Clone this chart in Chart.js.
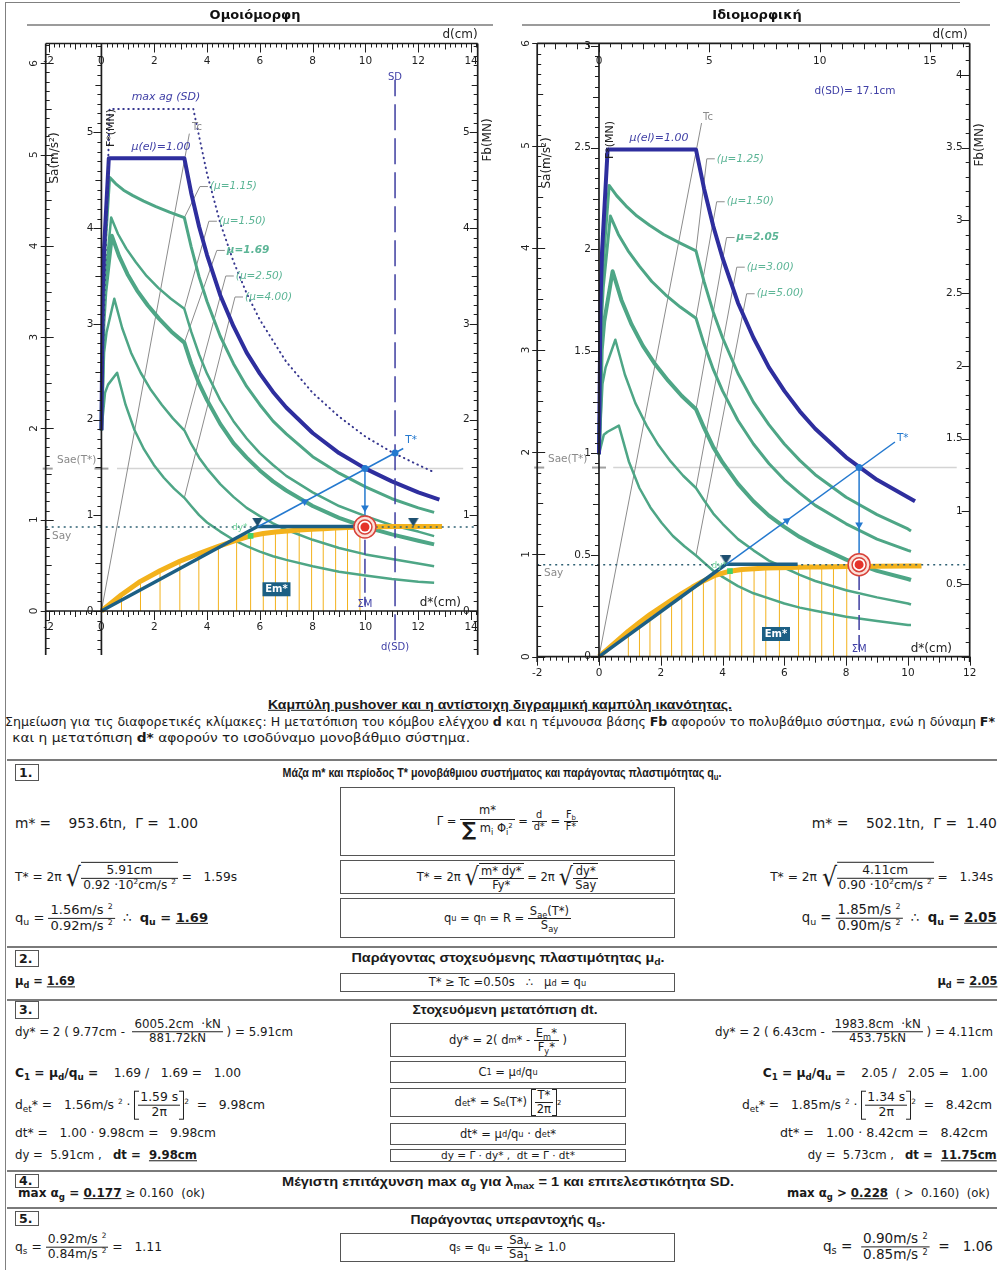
<!DOCTYPE html>
<html lang="el">
<head>
<meta charset="utf-8">
<title>Καμπύλη pushover και διγραμμική καμπύλη ικανότητας</title>
<script src="https://cdn.jsdelivr.net/npm/chart.js@4.4.1/dist/chart.umd.min.js"></script>
<style>
  body{margin:0;background:#fff;width:1000px;height:1270px;position:relative;overflow:hidden;
       font-family:"DejaVu Sans",Verdana,sans-serif;color:#1a1a1a}
  canvas{position:absolute;top:0}
  #cL{left:0} #cR{left:500px}
  .frameL{position:absolute;left:5px;top:3px;height:1267px;border-left:1.5px solid #808080}
  .topline{position:absolute;left:5px;top:2px;width:955px;border-top:1.5px solid #808080}
  .a{position:absolute;white-space:pre;line-height:1.15}
  .hd{font-family:"Liberation Sans Narrow","Liberation Sans",Arial,sans-serif;font-weight:bold}
  .note{font-family:"DejaVu Sans Condensed","Liberation Sans",sans-serif}
  .fr{display:inline-flex;flex-direction:column;align-items:center;vertical-align:middle;line-height:1.12}
  .fr>.n{border-bottom:1px solid #222;padding:0 2px;align-self:stretch;text-align:center}
  .fr>.d{padding:0 2px}
  .fr.sm{font-size:0.85em}
  .fr.big>.n{padding-bottom:2px}
  .sig{font-size:1.7em;font-weight:bold;vertical-align:-0.2em;line-height:1}
  .sq{display:inline-flex;align-items:center;vertical-align:middle}
  .sq>.rad{font-size:2.15em;line-height:1;margin-right:-1px;transform:scaleX(0.9)}
  .sq>.ov{border-top:1px solid #222;display:inline-block;padding-top:1px}
  .br{display:inline-block;vertical-align:middle;border-left:1px solid #222;border-right:1px solid #222;padding:0 3px;
      background:linear-gradient(#222,#222) left top/4px 1px no-repeat,linear-gradient(#222,#222) left bottom/4px 1px no-repeat,
                 linear-gradient(#222,#222) right top/4px 1px no-repeat,linear-gradient(#222,#222) right bottom/4px 1px no-repeat}
  .box{position:absolute;border:1px solid #555;box-sizing:border-box;display:flex;align-items:center;justify-content:center;
       white-space:pre;font-size:11.5px;line-height:1.12}
  .nb{position:absolute;border:1px solid #555;font-weight:bold;font-size:12.5px;line-height:14px;padding:0 3px;box-sizing:border-box}
  .sep{position:absolute;left:7px;width:990px;height:0;border-top:2px solid #7a7a7a}
  sub{font-size:0.72em;vertical-align:-0.35em;line-height:0}
  sup{font-size:0.6em;vertical-align:0.6em;line-height:0}
</style>
</head>
<body>
<div class="topline"></div>
<div class="frameL"></div>
<canvas id="cL" width="500" height="690"></canvas>
<canvas id="cR" width="500" height="690"></canvas>
<div id="txt"></div>
<script>
// ================= Ομοιόμορφη (left panel) =================
const L_gamma = 1.00, L_mStar = 0.9536;          // Γ, m* (kt → MN per m/s²)
const L_Say = 0.92, L_Sae = 1.56;                 // m/s²
const L_dyStar = 5.91, L_FyStar = 0.882, L_dmStar = 9.77, L_dtStar = 9.98, L_dSD = 11.12;
const L_muLabels = ['(μ=1.15)', '(μ=1.50)', 'μ=1.69', '(μ=2.50)', '(μ=4.00)'];
const L_muBold = 2;
const L_elD  = [0, 0.05, 0.10, 0.28, 3.14, 3.4, 3.7, 4, 4.5, 5, 5.5, 6, 6.5, 7, 8, 9, 10, 11, 12, 12.8];
const L_elSa = [1.98, 3.47, 3.97, 4.96, 4.96, 4.58, 4.21, 3.90, 3.46, 3.12, 2.83, 2.60, 2.40, 2.23, 1.95, 1.73, 1.56, 1.42, 1.30, 1.22];
const L_preD = [
  [0, 0.056, 0.112, 0.311, 0.545, 0.840, 1.193, 1.602, 2.064, 2.578],
  [0, 0.069, 0.137, 0.369, 0.628, 0.942, 1.305, 1.710, 2.154, 2.632],
  [0, 0.076, 0.149, 0.396, 0.665, 0.987, 1.352, 1.754, 2.189, 2.653],
  [0, 0.101, 0.193, 0.488, 0.785, 1.122, 1.488, 1.877, 2.285, 2.707],
  [0, 0.136, 0.251, 0.595, 0.914, 1.256, 1.615, 1.986, 2.365, 2.752]];
const L_postD = [3.14, 3.4, 3.7, 4, 4.5, 5, 5.5, 6, 6.5, 7, 8, 9, 10, 11, 12, 12.6];
const L_spSa = [
  [1.98, 3.40, 3.85, 4.75, 4.68, 4.61, 4.55, 4.49, 4.43, 4.37, 4.31, 3.99, 3.66, 3.39, 3.01, 2.71, 2.46, 2.26, 2.08, 1.94, 1.69, 1.51, 1.36, 1.23, 1.13, 1.08],
  [1.98, 3.23, 3.61, 4.31, 4.13, 3.97, 3.82, 3.67, 3.54, 3.42, 3.31, 3.06, 2.81, 2.60, 2.31, 2.08, 1.89, 1.73, 1.60, 1.48, 1.30, 1.15, 1.04, 0.94, 0.87, 0.82],
  [1.98, 3.15, 3.49, 4.11, 3.89, 3.69, 3.51, 3.35, 3.20, 3.06, 2.94, 2.71, 2.49, 2.31, 2.05, 1.84, 1.68, 1.54, 1.42, 1.32, 1.15, 1.02, 0.92, 0.84, 0.77, 0.73],
  [1.98, 2.83, 3.05, 3.42, 3.10, 2.83, 2.61, 2.42, 2.26, 2.11, 1.98, 1.83, 1.68, 1.56, 1.39, 1.25, 1.13, 1.04, 0.96, 0.89, 0.78, 0.69, 0.62, 0.57, 0.52, 0.49],
  [1.98, 2.39, 2.48, 2.61, 2.26, 1.98, 1.77, 1.60, 1.46, 1.34, 1.24, 1.15, 1.05, 0.97, 0.87, 0.78, 0.71, 0.65, 0.60, 0.56, 0.49, 0.43, 0.39, 0.35, 0.32, 0.31]];
const L_spWidth = [3, 2.5, 4, 2.5, 2.5];
const L_maxD  = [0, 0.31, 3.48, 4, 4.5, 5, 5.5, 6, 7, 8, 9, 10, 11, 12, 12.6];
const L_maxSa = [2.20, 5.50, 5.50, 4.79, 4.25, 3.83, 3.48, 3.19, 2.73, 2.39, 2.13, 1.91, 1.74, 1.60, 1.52];
const L_tcLine = [[0, 3.33], [0, 5.23]];
const L_pushD = [0, 0.76, 1.48, 2.22, 2.97, 3.69, 4.43, 5.12, 5.65, 6.13, 6.59, 7.04, 7.49, 7.96, 8.40, 8.87, 9.32, 9.79, 10.4, 11.2, 12.0, 12.9];
const L_pushF = [0, 0.17, 0.31, 0.42, 0.52, 0.60, 0.675, 0.74, 0.785, 0.81, 0.825, 0.836, 0.845, 0.853, 0.86, 0.866, 0.872, 0.878, 0.881, 0.882, 0.883, 0.883];
const L_TstarEnd = [11.43, 1.78];
const L_SDdot = 1.73;
const L_duStar = 11.81;
const L_greenSq = [5.65, 0.785];
const L_labelAt = [[3.73, 4.65], [4.07, 4.27], [4.37, 3.95], [4.71, 3.67], [5.06, 3.44]];
const L_dTicks = [-2, 0, 2, 4, 6, 8, 10, 12, 14];
const L_saTicks = [0, 1, 2, 3, 4, 5, 6];
const L_fTicks = [0, 1, 2, 3, 4, 5];

// ================= Ιδιομορφική (right panel) =================
const R_gamma = 1.40, R_mStar = 0.5021;
const R_Say = 0.90, R_Sae = 1.85;
const R_dyStar = 4.11, R_FyStar = 0.454, R_dmStar = 6.43, R_dtStar = 8.42, R_dSDtext = 'd(SD)= 17.1cm';
const R_muLabels = ['(μ=1.25)', '(μ=1.50)', 'μ=2.05', '(μ=3.00)', '(μ=5.00)'];
const R_muBold = 2;
const R_elD  = [0, 0.05, 0.10, 0.28, 3.14, 3.4, 3.7, 4, 4.5, 5, 5.5, 6, 6.5, 7, 8, 9, 10, 10.23];
const R_elSa = [1.98, 3.47, 3.97, 4.96, 4.96, 4.58, 4.21, 3.90, 3.46, 3.12, 2.83, 2.60, 2.40, 2.23, 1.95, 1.73, 1.56, 1.52];
const R_preD = [
  [0, 0.060, 0.120, 0.329, 0.571, 0.872, 1.229, 1.637, 2.094, 2.596],
  [0, 0.069, 0.137, 0.369, 0.628, 0.942, 1.305, 1.710, 2.154, 2.632],
  [0, 0.088, 0.170, 0.441, 0.725, 1.055, 1.422, 1.819, 2.240, 2.682],
  [0, 0.114, 0.215, 0.530, 0.837, 1.178, 1.542, 1.924, 2.320, 2.726],
  [0, 0.155, 0.279, 0.643, 0.966, 1.308, 1.663, 2.025, 2.393, 2.765]];
const R_postD = [3.14, 3.4, 3.7, 4, 4.5, 5, 5.5, 6, 6.5, 7, 8, 9, 10, 10.1];
const R_spSa = [
  [1.98, 3.35, 3.78, 4.61, 4.51, 4.41, 4.31, 4.22, 4.13, 4.05, 3.97, 3.67, 3.37, 3.12, 2.77, 2.49, 2.27, 2.08, 1.92, 1.78, 1.56, 1.39, 1.25, 1.23],
  [1.98, 3.23, 3.61, 4.31, 4.13, 3.97, 3.82, 3.67, 3.54, 3.42, 3.31, 3.06, 2.81, 2.60, 2.31, 2.08, 1.89, 1.73, 1.60, 1.48, 1.30, 1.15, 1.04, 1.03],
  [1.98, 3.00, 3.28, 3.77, 3.49, 3.25, 3.04, 2.86, 2.70, 2.55, 2.42, 2.24, 2.05, 1.90, 1.69, 1.52, 1.38, 1.27, 1.17, 1.09, 0.95, 0.84, 0.76, 0.75],
  [1.98, 2.67, 2.83, 3.10, 2.76, 2.48, 2.26, 2.07, 1.91, 1.77, 1.65, 1.53, 1.40, 1.30, 1.15, 1.04, 0.94, 0.87, 0.80, 0.74, 0.65, 0.58, 0.52, 0.51],
  [1.98, 2.17, 2.20, 2.26, 1.91, 1.65, 1.46, 1.31, 1.18, 1.08, 0.99, 0.92, 0.84, 0.78, 0.69, 0.62, 0.57, 0.52, 0.48, 0.45, 0.39, 0.35, 0.31, 0.31]];
const R_spWidth = [3, 3, 4, 2.5, 2.5];
const R_tcLine = [[0, 3.32], [0, 5.22]];
const R_pushD = [0, 0.95, 1.31, 1.65, 2.0, 2.35, 2.68, 3.03, 3.38, 3.76, 4.24, 4.62, 5.02, 5.40, 5.84, 6.46, 6.83, 7.21, 7.59, 8.02, 9.0, 10.0, 10.44];
const R_pushF = [0, 0.125, 0.168, 0.207, 0.243, 0.278, 0.31, 0.342, 0.372, 0.40, 0.42, 0.428, 0.432, 0.435, 0.437, 0.439, 0.44, 0.441, 0.442, 0.443, 0.444, 0.445, 0.445];
const R_TstarEnd = [9.58, 2.10];
const R_greenSq = [4.24, 0.42];
const R_labelAt = [[3.49, 4.87], [3.81, 4.45], [4.13, 4.10], [4.46, 3.81], [4.78, 3.55]];
const R_dTicks = [0, 5, 10, 15];
const R_dsTicks = [-2, 0, 2, 4, 6, 8, 10, 12];
const R_saTicks = [0, 1, 2, 3, 4, 5, 6];
const R_fTicks = [0, 0.5, 1, 1.5, 2, 2.5, 3];
const R_fbTicks = [0.5, 1, 1.5, 2, 2.5, 3, 3.5, 4];

// ================= drawing =================
const FONT = '"DejaVu Sans", Verdana, sans-serif';
const COL = {
  green: '#4ea686', greenTxt: '#5cb596', navy: '#2e2e9e', navyTxt: '#4040a6', orange: '#f3b21c',
  bil: '#1c5f84', tline: '#2479cf', gray: '#8c8c8c', sae: '#d4d4d4', say: '#2e6073', red: '#d8423a', tri: '#1d4f70'
};

const pts = (xs, ys) => xs.map((x, i) => ({ x, y: ys[i] }));
function path(xs, ys, color, width, yAxisID = 'y', extra = {}) {
  return Object.assign({ data: pts(xs, ys), showLine: true, borderColor: color, backgroundColor: color,
    borderWidth: width, pointRadius: 0, pointHoverRadius: 0, tension: 0, yAxisID, borderJoinStyle: 'round' }, extra);
}
function marks(xs, ys, style, yAxisID = 'y') {
  return Object.assign({ data: pts(xs, ys), showLine: false, yAxisID, pointHoverRadius: 0 }, style);
}
function hatch(xs, ys, limit, color) {
  const data = [];
  xs.forEach((x, i) => { if (x > 0 && x < limit) data.push({ x, y: 0 }, { x, y: ys[i] }, { x, y: null }); });
  return { data, showLine: true, spanGaps: false, borderColor: color, borderWidth: 1, pointRadius: 0, yAxisID: 'yF' };
}
function downTri(color, w, h) {
  const c = document.createElement('canvas'); c.width = w; c.height = 2 * h;
  const g = c.getContext('2d'); g.fillStyle = color;
  g.beginPath(); g.moveTo(0, 0); g.lineTo(w, 0); g.lineTo(w / 2, h); g.closePath(); g.fill();
  return c;
}
const triImg = downTri(COL.tri, 11, 9);

function spectra(preD, postD, saList, widths) {
  return saList.map((sa, i) => path(preD[i].concat(postD), sa, COL.green, widths[i]));
}
function leaders(labelAt, preD, postD, saList) {
  const k = preD[0].length;                     // corner point at T = Tc
  return labelAt.map((p, i) => path([p[0], postD[0]], [p[1], saList[i][k]], COL.gray, 1));
}
function target(d, sa) {
  return [
    marks([d], [sa], { pointRadius: 11, backgroundColor: '#fbe2da', borderColor: COL.red, borderWidth: 1.5 }),
    marks([d], [sa], { pointRadius: 7, backgroundColor: '#ffffff', borderColor: COL.red, borderWidth: 1.5 }),
    marks([d], [sa], { pointRadius: 4.5, backgroundColor: '#e5332a', borderWidth: 0 })
  ];
}

function scalesFor(xMin, xMax, saMin, saMax, mStar, gamma) {
  const lin = (axis, min, max) => ({ type: 'linear', axis, min, max, display: false, offset: false });
  return { x: lin('x', xMin, xMax), xd: lin('x', xMin * gamma, xMax * gamma), y: lin('y', saMin, saMax),
           yF: lin('y', saMin * mStar, saMax * mStar), yFb: lin('y', saMin * mStar * gamma, saMax * mStar * gamma) };
}

const near = v => Math.abs(v - Math.round(v)) < 1e-6;
function ruler(ctx, o) {
  const s = o.scale;
  ctx.save();
  ctx.strokeStyle = '#1e1e1e'; ctx.lineWidth = 1.7;
  ctx.beginPath();
  if (o.h) { ctx.moveTo(o.lo, o.at); ctx.lineTo(o.hi, o.at); } else { ctx.moveTo(o.at, o.lo); ctx.lineTo(o.at, o.hi); }
  ctx.stroke();
  ctx.lineWidth = 1; ctx.beginPath();
  const k0 = Math.ceil(s.min / o.step - 1e-6), k1 = Math.floor(s.max / o.step + 1e-6);
  for (let k = k0; k <= k1; k++) {
    const v = k * o.step;
    const maj = near(v / o.major), mid = !maj && o.mid && near(v / o.mid);
    const L = maj ? o.len[2] : mid ? o.len[1] : o.len[0];
    const back = maj ? (o.back || 0) : 0;
    const p = Math.round(s.getPixelForValue(v)) + 0.5;
    if (o.h) { ctx.moveTo(p, o.at - o.dir * back); ctx.lineTo(p, o.at + o.dir * L); }
    else { ctx.moveTo(o.at - o.dir * back, p); ctx.lineTo(o.at + o.dir * L, p); }
  }
  ctx.stroke();
  ctx.fillStyle = '#1e1e1e'; ctx.font = '10.5px ' + FONT; ctx.textBaseline = 'middle';
  for (const v of o.labels) {
    const p = s.getPixelForValue(v), t = String(v);
    if (o.h) { ctx.textAlign = 'center'; ctx.fillText(t, p, o.at + o.lab); }
    else if (o.rot) { ctx.save(); ctx.translate(o.at + o.lab, p); ctx.rotate(-Math.PI / 2); ctx.textAlign = 'center'; ctx.fillText(t, 0, 0); ctx.restore(); }
    else { ctx.textAlign = 'right'; ctx.fillText(t, o.at + o.lab, p); }
  }
  ctx.restore();
}
function txt(ctx, s, x, y, o = {}) {
  ctx.save();
  ctx.font = o.font || ('11px ' + FONT); ctx.fillStyle = o.color || '#222';
  ctx.textAlign = o.align || 'left'; ctx.textBaseline = 'middle';
  if (o.rot) { ctx.translate(x, y); ctx.rotate(o.rot); ctx.fillText(s, 0, 0); } else ctx.fillText(s, x, y);
  ctx.restore();
}
function seg(ctx, x1, y1, x2, y2, color, w) {
  ctx.save(); ctx.strokeStyle = color; ctx.lineWidth = w; ctx.beginPath(); ctx.moveTo(x1, y1); ctx.lineTo(x2, y2); ctx.stroke(); ctx.restore();
}
function emBox(ctx, x, y) {
  ctx.save(); ctx.fillStyle = COL.bil; ctx.fillRect(x - 14, y - 7, 28, 14); ctx.restore();
  txt(ctx, 'Em*', x, y + 0.5, { font: 'bold 10px ' + FONT, color: '#fff', align: 'center' });
}
function muLabels(ctx, X, Y, labelAt, labels, boldIdx) {
  labelAt.forEach((p, i) => {
    const x = X(p[0]), y = Y(p[1]);
    seg(ctx, x, y, x + 8, y, COL.gray, 1);
    txt(ctx, labels[i], x + 10, y, { font: (i === boldIdx ? 'italic bold ' : 'italic ') + '10.5px ' + FONT, color: COL.greenTxt });
  });
}
const ROT = -Math.PI / 2;

// ---------- left chart ----------
const L_sc = scalesFor(-2.11, 14.25, -0.482, 6.217, L_mStar, L_gamma);
const L_ds = [
  path([0.59, 13.7], [L_Sae, L_Sae], COL.sae, 1.5),
  hatch(L_pushD, L_pushF, L_dtStar, COL.orange),
  path(L_tcLine[0], L_tcLine[1], COL.gray, 1),
  ...leaders(L_labelAt, L_preD, L_postD, L_spSa),
  ...spectra(L_preD, L_postD, L_spSa, L_spWidth),
  path(L_elD, L_elSa, COL.navy, 4),
  path(L_maxD, L_maxSa, '#37378f', 2, 'y', { borderDash: [0.5, 4.5], borderCapStyle: 'round' }),
  path([L_dSD, L_dSD], [-0.32, 5.82], '#3d3da0', 1.5, 'y', { borderDash: [26, 8] }),
  path([L_dtStar, L_dtStar], [0.78, 0.06], '#3d3da0', 1.5, 'y', { borderDash: [15, 4] }),
  path(L_pushD, L_pushF, COL.orange, 5, 'yF'),
  path([-2.11, 14.25], [L_Say, L_Say], COL.say, 1.5, 'y', { borderDash: [2, 4] }),
  path([0, L_dyStar, L_dmStar], [0, L_FyStar, L_FyStar], COL.bil, 3.5, 'yF'),
  path([L_dyStar, L_TstarEnd[0]], [L_Say, L_TstarEnd[1]], COL.tline, 1.5),
  path([L_dtStar, L_dtStar], [L_Sae, L_Say], COL.tline, 1.5),
  marks([7.7], [L_Say / L_dyStar * 7.7], { pointStyle: 'triangle', pointRadius: 4.5, pointRotation: 61.7, backgroundColor: COL.tline, borderWidth: 0 }),
  marks([L_dtStar], [1.13], { pointStyle: 'triangle', pointRadius: 4.5, pointRotation: 180, backgroundColor: COL.tline, borderWidth: 0 }),
  marks([L_dtStar, L_dSD], [L_Sae, L_SDdot], { pointRadius: 3.5, backgroundColor: COL.tline, borderWidth: 0 }),
  marks([L_dyStar, L_duStar], [L_FyStar, L_FyStar], { pointStyle: triImg, pointRadius: 5 }, 'yF'),
  marks([L_greenSq[0]], [L_greenSq[1]], { pointStyle: 'rect', pointRadius: 4, backgroundColor: '#3fd16a', borderWidth: 0 }, 'yF'),
  ...target(L_dtStar, L_Say)
];
const overlayL = { id: 'overlayL', afterDraw(chart) {
  const { ctx, chartArea: a, scales: s } = chart;
  const X = v => s.x.getPixelForValue(v), Y = v => s.y.getPixelForValue(v);
  seg(ctx, 27, 25, 493, 25, '#7a7a7a', 1.5);
  txt(ctx, 'Ομοιόμορφη', 255, 16, { font: 'bold 13px ' + FONT, align: 'center', color: '#111' });
  seg(ctx, a.left - 3, Y(L_Sae), a.left + 7, Y(L_Sae), '#a0a0a0', 2);
  seg(ctx, X(0) - 7, Y(L_Sae), X(0) + 7, Y(L_Sae), '#a0a0a0', 2);
  ruler(ctx, { scale: s.xd, h: true, at: a.top, lo: a.left, hi: a.right, step: 0.2, mid: 1, major: 2, len: [4, 6, 9], dir: 1, labels: L_dTicks, lab: 17.5 });
  ruler(ctx, { scale: s.x, h: true, at: Y(0), lo: a.left, hi: a.right, step: 0.2, mid: 1, major: 2, len: [4, 6, 9], dir: 1, labels: L_dTicks, lab: 16.7 });
  ruler(ctx, { scale: s.y, h: false, at: a.left, lo: a.top, hi: a.bottom, step: 0.1, mid: 0.5, major: 1, len: [4, 6, 8], dir: 1, back: 5, labels: L_saTicks, lab: -11, rot: true });
  ruler(ctx, { scale: s.yF, h: false, at: X(0), lo: a.top, hi: a.bottom, step: 0.1, mid: 0.5, major: 1, len: [4, 6, 8], dir: -1, labels: L_fTicks, lab: -8 });
  ruler(ctx, { scale: s.yFb, h: false, at: a.right, lo: a.top, hi: a.bottom, step: 0.1, mid: 0.5, major: 1, len: [4, 6, 8], dir: -1, labels: L_fTicks, lab: -8 });
  txt(ctx, 'd(cm)', a.right, 35, { font: '12px ' + FONT, align: 'right' });
  txt(ctx, 'd*(cm)', 461, Y(0) - 8, { font: '12px ' + FONT, align: 'right' });
  txt(ctx, 'Sa(m/s²)', 55, 158, { font: '12px ' + FONT, align: 'center', rot: ROT });
  txt(ctx, 'F*(MN)', 111, 128, { font: '11px ' + FONT, align: 'center', rot: ROT });
  txt(ctx, 'Fb(MN)', 488, 140, { font: '12px ' + FONT, align: 'center', rot: ROT });
  txt(ctx, 'max ag (SD)', 166, 97, { font: 'italic 11px ' + FONT, align: 'center', color: COL.navyTxt });
  txt(ctx, 'SD', X(L_dSD), 77, { font: '10px ' + FONT, align: 'center', color: COL.navyTxt });
  txt(ctx, 'd(SD)', X(L_dSD), 647, { font: '10px ' + FONT, align: 'center', color: COL.navyTxt });
  txt(ctx, 'μ(el)=1.00', 161, 147, { font: 'italic 11px ' + FONT, align: 'center', color: COL.navyTxt });
  txt(ctx, 'Tc', 197, 127, { font: '10px ' + FONT, align: 'center', color: '#8a8a8a' });
  txt(ctx, 'Sae(T*)', 57, Y(L_Sae) - 8, { font: '10.5px ' + FONT, color: '#8a8a8a' });
  txt(ctx, 'Say', 52, Y(L_Say) + 9, { font: '10.5px ' + FONT, color: '#8a8a8a' });
  txt(ctx, 'T*', X(L_TstarEnd[0]) + 2, Y(L_TstarEnd[1]) - 8, { font: '10.5px ' + FONT, color: COL.tline });
  txt(ctx, 'dy*', X(L_greenSq[0]) - 3, Y(L_Say) + 1, { font: '9px ' + FONT, color: '#6fd39a', align: 'right' });
  txt(ctx, 'ΣΜ', X(L_dtStar), 604, { font: '10px ' + FONT, align: 'center', color: COL.navyTxt });
  emBox(ctx, X(6.63), Y(0.238));
  muLabels(ctx, X, Y, L_labelAt, L_muLabels, L_muBold);
}};

// ---------- right chart ----------
const R_sc = scalesFor(-2, 12, -0.052, 6.0, R_mStar, R_gamma);
const R_slope = R_Say / R_dyStar;
const R_ds = [
  path([0.46, 11.58], [R_Sae, R_Sae], COL.sae, 1.5),
  hatch(R_pushD, R_pushF, R_dtStar, COL.orange),
  path(R_tcLine[0], R_tcLine[1], COL.gray, 1),
  ...leaders(R_labelAt, R_preD, R_postD, R_spSa),
  ...spectra(R_preD, R_postD, R_spSa, R_spWidth),
  path(R_elD, R_elSa, COL.navy, 4),
  path([R_dtStar, R_dtStar], [0.80, 0.06], '#3d3da0', 1.5, 'y', { borderDash: [15, 5] }),
  path(R_pushD, R_pushF, COL.orange, 5, 'yF'),
  path([-2, 12], [R_Say, R_Say], COL.say, 1.5, 'y', { borderDash: [2, 4] }),
  path([0, R_dyStar, R_dmStar], [0, R_FyStar, R_FyStar], COL.bil, 3.5, 'yF'),
  path([R_dyStar, R_TstarEnd[0]], [R_Say, R_TstarEnd[1]], COL.tline, 1.5),
  path([R_dtStar, R_dtStar], [R_Sae, R_Say], COL.tline, 1.5),
  marks([6.08], [R_slope * 6.08], { pointStyle: 'triangle', pointRadius: 4.5, pointRotation: 53.8, backgroundColor: COL.tline, borderWidth: 0 }),
  marks([R_dtStar], [1.29], { pointStyle: 'triangle', pointRadius: 4.5, pointRotation: 180, backgroundColor: COL.tline, borderWidth: 0 }),
  marks([R_dtStar], [R_Sae], { pointRadius: 3.5, backgroundColor: COL.tline, borderWidth: 0 }),
  marks([R_dyStar], [R_FyStar], { pointStyle: triImg, pointRadius: 5 }, 'yF'),
  marks([R_greenSq[0]], [R_greenSq[1]], { pointStyle: 'rect', pointRadius: 4, backgroundColor: '#3fd16a', borderWidth: 0 }, 'yF'),
  ...target(R_dtStar, R_Say)
];
const overlayR = { id: 'overlayR', afterDraw(chart) {
  const { ctx, chartArea: a, scales: s } = chart;
  const X = v => s.x.getPixelForValue(v), Y = v => s.y.getPixelForValue(v);
  seg(ctx, 22, 25, 490, 25, '#7a7a7a', 1.5);
  txt(ctx, 'Ιδιομορφική', 257, 16, { font: 'bold 13px ' + FONT, align: 'center', color: '#111' });
  seg(ctx, a.left - 3, Y(R_Sae), a.left + 7, Y(R_Sae), '#a0a0a0', 2);
  seg(ctx, X(0) - 7, Y(R_Sae), X(0) + 7, Y(R_Sae), '#a0a0a0', 2);
  ruler(ctx, { scale: s.xd, h: true, at: a.top, lo: a.left, hi: a.right, step: 0.5, mid: 1, major: 5, len: [4, 6, 9], dir: 1, labels: R_dTicks, lab: 17.7 });
  ruler(ctx, { scale: s.x, h: true, at: Y(0), lo: a.left, hi: a.right, step: 0.2, mid: 1, major: 2, len: [4, 6, 9], dir: 1, labels: R_dsTicks, lab: 16.7 });
  ruler(ctx, { scale: s.y, h: false, at: a.left, lo: a.top, hi: a.bottom, step: 0.1, mid: 0.5, major: 1, len: [4, 6, 8], dir: 1, back: 5, labels: R_saTicks, lab: -11, rot: true });
  ruler(ctx, { scale: s.yF, h: false, at: X(0), lo: a.top, hi: a.bottom, step: 0.05, mid: 0.25, major: 0.5, len: [4, 6, 8], dir: -1, labels: R_fTicks, lab: -8 });
  ruler(ctx, { scale: s.yFb, h: false, at: a.right, lo: a.top, hi: a.bottom, step: 0.1, mid: 0.5, major: 0.5, len: [4, 6, 8], dir: -1, labels: R_fbTicks, lab: -7 });
  txt(ctx, 'd(cm)', a.right - 2, 35, { font: '12px ' + FONT, align: 'right' });
  txt(ctx, 'd*(cm)', 452, Y(0) - 8, { font: '12px ' + FONT, align: 'right' });
  txt(ctx, 'Sa(m/s²)', 47, 163, { font: '12px ' + FONT, align: 'center', rot: ROT });
  txt(ctx, 'F*(MN)', 110, 140, { font: '11px ' + FONT, align: 'center', rot: ROT });
  txt(ctx, 'Fb(MN)', 480, 145, { font: '12px ' + FONT, align: 'center', rot: ROT });
  txt(ctx, R_dSDtext, 355, 91, { font: '10.5px ' + FONT, align: 'center', color: COL.navyTxt });
  txt(ctx, 'μ(el)=1.00', 159, 138, { font: 'italic 11px ' + FONT, align: 'center', color: COL.navyTxt });
  txt(ctx, 'Tc', 208, 117, { font: '10px ' + FONT, align: 'center', color: '#8a8a8a' });
  txt(ctx, 'Sae(T*)', 48, Y(R_Sae) - 8, { font: '10.5px ' + FONT, color: '#8a8a8a' });
  txt(ctx, 'Say', 44, Y(R_Say) + 9, { font: '10.5px ' + FONT, color: '#8a8a8a' });
  txt(ctx, 'T*', X(R_TstarEnd[0]) + 2, Y(R_TstarEnd[1]) - 4, { font: '10.5px ' + FONT, color: COL.tline });
  txt(ctx, 'dy*', X(R_greenSq[0]) - 3, Y(R_Say) + 1, { font: '9px ' + FONT, color: '#6fd39a', align: 'right' });
  txt(ctx, 'ΣΜ', X(R_dtStar), 649, { font: '10px ' + FONT, align: 'center', color: COL.navyTxt });
  emBox(ctx, X(5.73), Y(0.222));
  muLabels(ctx, X, Y, R_labelAt, R_muLabels, R_muBold);
}};

function build(id, datasets, sc, pad, overlay) {
  datasets.forEach((d, i) => { d.order = datasets.length - i; });
  return new Chart(document.getElementById(id), {
    type: 'scatter',
    data: { datasets },
    options: { responsive: false, animation: false, devicePixelRatio: 1, events: [],
      layout: { padding: pad }, scales: sc,
      plugins: { legend: { display: false }, tooltip: { enabled: false } } },
    plugins: [overlay]
  });
}
build('cL', L_ds, L_sc, { left: 45.7, right: 22.3, top: 43.5, bottom: 35 }, overlayL);
build('cR', R_ds, R_sc, { left: 37.2, right: 30.3, top: 43.3, bottom: 28 }, overlayR);

// ================= calculation sheet =================
const F = (n, d, cls = '') => `<span class="fr ${cls}"><span class="n">${n}</span><span class="d">${d}</span></span>`;
const SQ = x => `<span class="sq"><span class="rad">√</span><span class="ov">${x}</span></span>`;
const BR = x => `<span class="br">${x}</span>`;
const ms2 = v => `${v}m/s <sup>2</sup>`;

const seps = [759, 946, 999, 1170, 1207];
const numBoxes = [['1.', 764, 17], ['2.', 950, 17], ['3.', 1001, 18], ['4.', 1174, 14], ['5.', 1211, 15]];
// fit: 'x' = keep font size, stretch horizontally; default = size (clamped) then stretch
const rows = [
  { c: 500, y: 705, w: 464, fs: 12.5, fit: 'x', cls: 'hd', h: '<u>Καμπύλη pushover και η αντίστοιχη διγραμμική καμπύλη ικανότητας.</u>' },
  { l: 5, y: 723, w: 990, fs: 12, fit: 'x', cls: 'note', h: 'Σημείωση για τις διαφορετικές κλίμακες: Η μετατόπιση του κόμβου ελέγχου <b>d</b> και η τέμνουσα βάσης <b>Fb</b> αφορούν το πολυβάθμιο σύστημα, ενώ η δύναμη <b>F*</b>' },
  { l: 8, y: 739, w: 462, fs: 12, fit: 'x', cls: 'note', h: ' και η μετατόπιση <b>d*</b> αφορούν το ισοδύναμο μονοβάθμιο σύστημα.' },
  { c: 502, y: 773, w: 439, fs: 12.5, fit: 'x', cls: 'hd', h: 'Μάζα m* και περίοδος T* μονοβάθμιου συστήματος και παράγοντας πλαστιμότητας q<sub>u</sub>.' },
  { c: 508, y: 958, w: 313, fs: 12.5, fit: 'x', cls: 'hd', h: 'Παράγοντας στοχευόμενης πλαστιμότητας μ<sub>d</sub>.' },
  { c: 505, y: 1010, w: 185, fs: 12.5, fit: 'x', cls: 'hd', h: 'Στοχευόμενη μετατόπιση dt.' },
  { c: 508, y: 1182, w: 452, fs: 12.5, fit: 'x', cls: 'hd', h: 'Μέγιστη επιτάχυνση max α<sub>g</sub> για λ<sub>max</sub> = 1 και επιτελεστικότητα SD.' },
  { c: 508, y: 1220, w: 195, fs: 12.5, fit: 'x', cls: 'hd', h: 'Παράγοντας υπεραντοχής q<sub>s</sub>.' },

  { l: 15, y: 824, w: 183, h: 'm* =    953.6tn,  Γ =  1.00' },
  { l: 15, y: 877, w: 222, h: `T* = 2π ${SQ(F('5.91cm', '0.92 ·10<sup>2</sup>cm/s <sup>2</sup>'))} =   1.59s` },
  { l: 15, y: 918, w: 193, h: `q<sub>u</sub> = ${F(ms2('1.56'), ms2('0.92'))}  ∴  <b>q<sub>u</sub> = <u>1.69</u></b>` },
  { l: 15, y: 982, w: 60, h: '<b>μ<sub>d</sub> = <u>1.69</u></b>' },
  { l: 15, y: 1032, w: 278, h: `dy* = 2 ( 9.77cm -  ${F('6005.2cm  ·kN', '881.72kN')} ) = 5.91cm` },
  { l: 15, y: 1073, w: 226, h: '<b>C<sub>1</sub> = μ<sub>d</sub>/q<sub>u</sub> =</b>    1.69 /   1.69 =   1.00' },
  { l: 15, y: 1105, w: 250, h: `d<sub>et</sub>* =   1.56m/s <sup>2</sup> · ${BR(F('1.59 s', '2π'))}<sup>2</sup>  =   9.98cm` },
  { l: 15, y: 1133, w: 201, h: 'dt* =   1.00 · 9.98cm =   9.98cm' },
  { l: 15, y: 1156, w: 182, h: 'dy =  5.91cm ,   <b>dt =  <u>9.98cm</u></b>' },
  { l: 18, y: 1194, w: 187, h: '<b>max α<sub>g</sub> = <u>0.177</u></b> ≥ 0.160  (ok)' },
  { l: 15, y: 1247, w: 147, h: `q<sub>s</sub> = ${F(ms2('0.92'), ms2('0.84'))} =   1.11` },

  { r: 3, y: 824, w: 185, h: 'm* =    502.1tn,  Γ =  1.40' },
  { r: 7, y: 877, w: 223, h: `T* = 2π ${SQ(F('4.11cm', '0.90 ·10<sup>2</sup>cm/s <sup>2</sup>'))} =   1.34s` },
  { r: 3, y: 918, w: 195, h: `q<sub>u</sub> = ${F(ms2('1.85'), ms2('0.90'))}  ∴  <b>q<sub>u</sub> = <u>2.05</u></b>` },
  { r: 3, y: 982, w: 60, h: '<b>μ<sub>d</sub> = <u>2.05</u></b>' },
  { r: 7, y: 1032, w: 278, h: `dy* = 2 ( 6.43cm -  ${F('1983.8cm  ·kN', '453.75kN')} ) = 4.11cm` },
  { r: 12, y: 1073, w: 225, h: '<b>C<sub>1</sub> = μ<sub>d</sub>/q<sub>u</sub> =</b>    2.05 /   2.05 =   1.00' },
  { r: 8, y: 1105, w: 250, h: `d<sub>et</sub>* =   1.85m/s <sup>2</sup> · ${BR(F('1.34 s', '2π'))}<sup>2</sup>  =   8.42cm` },
  { r: 12, y: 1133, w: 208, h: 'dt* =   1.00 · 8.42cm =   8.42cm' },
  { r: 3, y: 1156, w: 189, h: 'dy =  5.73cm ,   <b>dt =  <u>11.75cm</u></b>' },
  { r: 10, y: 1194, w: 203, h: '<b>max α<sub>g</sub> > <u>0.228</u></b>  ( >  0.160)  (ok)' },
  { r: 7, y: 1247, w: 170, h: `q<sub>s</sub> =  ${F(ms2('0.90'), ms2('0.85'))}  =   1.06` }
];
const boxes = [
  [340, 787, 335, 69, `Γ = ${F('m*', '<span class="sig">∑</span> m<sub>i</sub> Φ<sub>i</sub><sup>2</sup>', 'big')} = ${F('d', 'd*', 'sm')} = ${F('F<sub>b</sub>', 'F*', 'sm')}`],
  [340, 860, 335, 34, `T* = 2π ${SQ(F('m* dy*', 'Fy*'))} = 2π ${SQ(F('dy*', 'Say'))}`],
  [340, 898, 335, 40, `q<sub>u</sub> = q<sub>n</sub> = R = ${F('S<sub>ae</sub>(T*)', 'S<sub>ay</sub>')}`],
  [340, 973, 335, 19, 'T* ≥ Tc =0.50s   ∴   μ<sub>d</sub> = q<sub>u</sub>'],
  [390, 1023, 236, 34, `dy* = 2( d<sub>m</sub>* - ${F('E<sub>m</sub>*', 'F<sub>y</sub>*')} )`],
  [390, 1061, 236, 22, 'C<sub>1</sub> = μ<sub>d</sub>/q<sub>u</sub>'],
  [390, 1088, 236, 29, `d<sub>et</sub>* = S<sub>e</sub>(T*) ${BR(F('T*', '2π'))}<sup>2</sup>`],
  [390, 1123, 236, 22, 'dt* = μ<sub>d</sub>/q<sub>u</sub> · d<sub>et</sub>*'],
  [390, 1149, 236, 13, 'dy = Γ · dy* ,  dt = Γ · dt*'],
  [340, 1233, 335, 29, `q<sub>s</sub> = q<sub>u</sub> = ${F('Sa<sub>y</sub>', 'Sa<sub>1</sub>')} ≥ 1.0`]
];

const host = document.getElementById('txt');
seps.forEach(y => { const d = document.createElement('div'); d.className = 'sep'; d.style.top = y + 'px'; host.appendChild(d); });
numBoxes.forEach(([t, y, h]) => {
  const d = document.createElement('div'); d.className = 'nb'; d.textContent = t;
  Object.assign(d.style, { left: '15px', top: y + 'px', width: '24px', height: h + 'px', lineHeight: (h - 2) + 'px' });
  host.appendChild(d);
});
boxes.forEach(([x, y, w, h, html]) => {
  const d = document.createElement('div'); d.className = 'box'; d.innerHTML = html;
  Object.assign(d.style, { left: x + 'px', top: y + 'px', width: w + 'px', height: h + 'px' });
  if (h < 16) d.style.fontSize = '10.5px';
  host.appendChild(d);
});
rows.forEach(r => {
  const d = document.createElement('div');
  d.className = 'a ' + (r.cls || '');
  d.innerHTML = r.h;
  d.style.top = r.y + 'px';
  if (r.l != null) d.style.left = r.l + 'px';
  if (r.r != null) d.style.right = r.r + 'px';
  if (r.c != null) d.style.left = r.c + 'px';
  let fs = r.fs || 12.5;
  d.style.fontSize = fs + 'px';
  host.appendChild(d);
  let w = d.getBoundingClientRect().width;
  if (r.fit !== 'x') {
    fs = Math.min(13.5, Math.max(11.5, fs * r.w / w));
    d.style.fontSize = fs.toFixed(2) + 'px';
    w = d.getBoundingClientRect().width;
  }
  const k = r.w / w;
  const base = r.c != null ? 'translate(-50%,-50%)' : 'translateY(-50%)';
  d.style.transformOrigin = r.c != null ? 'center center' : (r.r != null ? 'right center' : 'left center');
  d.style.transform = base + ` scaleX(${k.toFixed(4)})`;
});
</script>
</body>
</html>
